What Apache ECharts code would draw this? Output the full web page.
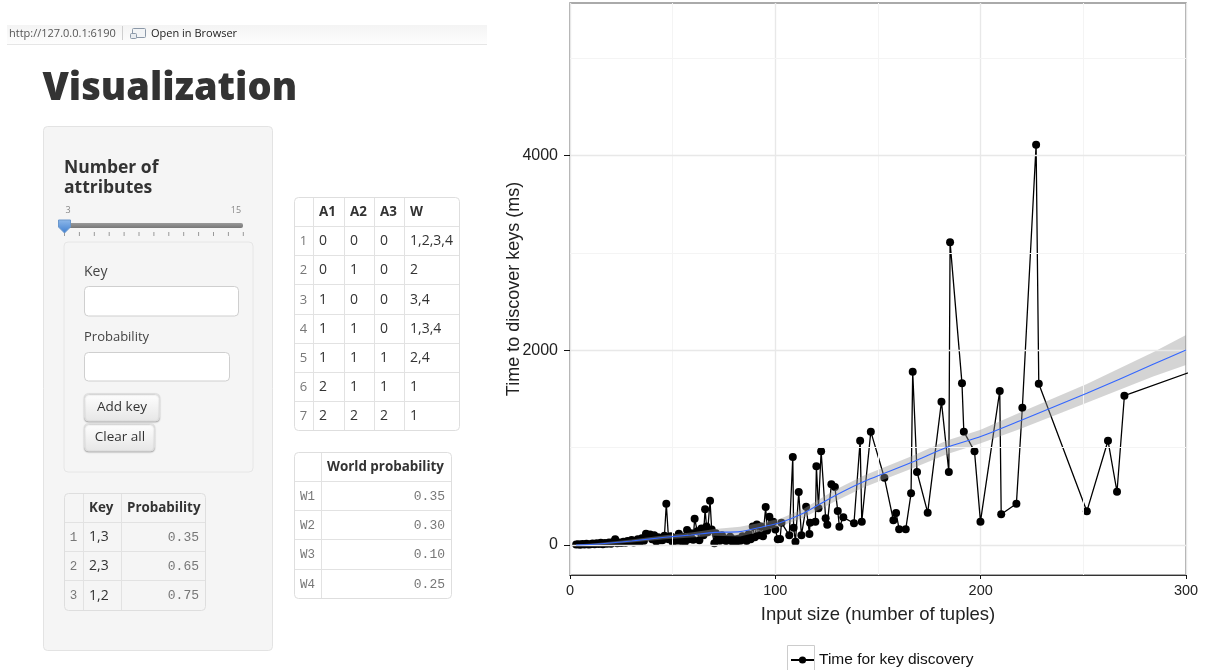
<!DOCTYPE html>
<html><head><meta charset="utf-8">
<script src="https://cdn.jsdelivr.net/npm/echarts@6/dist/echarts.min.js"></script>
<style>html,body{margin:0;padding:0;background:#fff}#c{width:1205px;height:670px}</style>
</head><body><div id="c"></div>
<script>
// ---- data ----
const seriesName = 'Time for key discovery';
const xAxisTitle = 'Input size (number of tuples)';
const yAxisTitle = 'Time to discover keys (ms)';
const sizes = [3,4,5,6,7,8,9,10,11,12,13,14,15,16,17,18,19,20,21,22,23,24,25,26,27,28,29,30,31,32,33,34,35,36,37,38,39,40,41,42,43,44,45,46,46.9,48,49,50,51,52,53,54,55,56,57,58,59,60,60.7,62,63,64,65,65.8,66.5,67,68.2,69,70.3,71,72,73,74,75,76,77,78,79,80,81,82,83,84,85,86,87,88,89,90,91,92,93,94,95.3,96,97.1,98,99,100,101.2,102.3,103,106.8,108.5,108.9,109.8,111.4,112.7,115,116.6,116.9,119.5,120,121,122.3,124.5,125.3,127.3,129,130.4,131.2,133.1,138.3,141.3,142.1,146.5,153.1,157.5,158.8,160.3,163.5,166.1,166.9,169,174.2,180.9,184.5,185.1,190.9,191.8,197,199.9,209.3,210,217.4,220.3,227,228.3,251.7,262,266.4,270,320];
const times = [5,8,3,10,4,12,6,9,15,7,18,10,22,8,20,14,25,12,30,58,18,26,20,34,22,40,30,52,25,38,60,30,70,45,115,90,108,60,100,35,80,50,48,95,424,60,90,30,75,45,115,40,85,30,155,60,120,55,270,140,50,170,100,367,190,130,455,160,17,120,60,45,100,70,40,55,85,35,60,30,65,45,90,70,40,110,60,190,80,210,100,190,90,390,150,291,210,240,160,58,62,229,99,904,178,34,544,99,394,113,229,240,808,377,962,274,209,623,596,349,188,284,223,1071,239,1164,691,254,329,161,161,531,1780,750,332,1472,750,3110,1660,1164,962,240,1582,315,424,1410,4110,1657,346,1071,547,1533,1911];
const smoothX = [3,13.6,30,46.3,59,70.6,82.8,94,102.3,113.6,129,142.9,167.2,183.5,199.7,219.2,251.7,284,300];
const smoothY = [0,10,41,79,103,130,137,188,229,325,506,650,855,1003,1112,1277,1558,1855,2003];
const bandHalf = [5,10,15,20,25,35,50,45,40,45,60,60,65,70,70,85,96,125,154];
const xTicks = [0,100,200,300];
const xMinorGrid = [50,150,250];
const yTicks = [0,2000,4000];
const yMinorGrid = [1000,3000,5000];

const pageTitle = 'Visualization';
const panelTitle = ['Number of','attributes'];
const sliderEnds = ['3','15'];
const sliderStops = [3,4,5,6,7,8,9,10,11,12,13,14,15];
const inputLabels = ['Key','Probability'];
const buttonLabels = ['Add key','Clear all'];
const keyHead = ['','Key','Probability'];
const keyRows = [['1','1,3','0.35'],['2','2,3','0.65'],['3','1,2','0.75']];
const attrHead = ['','A1','A2','A3','W'];
const attrRows = [['1','0','0','0','1,2,3,4'],['2','0','1','0','2'],['3','1','0','0','3,4'],['4','1','1','0','1,3,4'],['5','1','1','1','2,4'],['6','2','1','1','1'],['7','2','2','2','1']];
const worldHead = ['','World probability'];
const worldRows = [['W1','0.35'],['W2','0.30'],['W3','0.10'],['W4','0.25']];

// ---- page furniture ----
const UI = '"Open Sans", sans-serif';
const g = [];
const rect = (x,y,w,h,fill,stroke,r,z,shadow) => g.push({type:'rect',silent:true,z:z||1,shape:{x,y,width:w,height:h,r:r||0},
  style:{fill:fill||'none',stroke:stroke||'none',lineWidth:1,shadowBlur:shadow?1.5:0,shadowColor:'rgba(0,0,0,0.25)',shadowOffsetY:shadow?1:0}});
const line = (x1,y1,x2,y2,c,w,z) => g.push({type:'line',silent:true,z:z||2,shape:{x1,y1,x2,y2},style:{stroke:c,lineWidth:w||1}});
const text = (t,x,y,o) => g.push({type:'text',silent:true,z:5,x,y,style:Object.assign({text:t,fill:'#333',font:'14px '+UI,textAlign:'left',textVerticalAlign:'middle'},o||{})});
const vgrad = (a,b) => ({type:'linear',x:0,y:0,x2:0,y2:1,colorStops:[{offset:0,color:a},{offset:1,color:b}]});

// browser strip
rect(7,25,480,19,vgrad('#f4f4f4','#fdfdfd'));
line(7,44.5,487,44.5,'#e6e6e6');
text('http://127.0.0.1:6190',9,33.5,{font:'11px '+UI,fill:'#555'});
line(122.5,26,122.5,40,'#cfcfcf');
rect(132.5,28.5,13,9,'#f2f4f6','#8b98a8',1);
rect(130.5,33.5,6,5,'#e8ecf0','#8b98a8',1);
text('Open in Browser',151,33.5,{font:'11px '+UI,fill:'#222'});
text(pageTitle,42.5,89,{font:'800 38px '+UI,fill:'#333'});

// sidebar
rect(43.5,126.5,229,524,'#f5f5f5','#e3e3e3',4);
text(panelTitle[0],64,168,{font:'bold 17.5px '+UI});
text(panelTitle[1],64,188,{font:'bold 17.5px '+UI});
text(sliderEnds[0],68,210,{font:'9px '+UI,fill:'#888',textAlign:'center'});
text(sliderEnds[1],236,210,{font:'9px '+UI,fill:'#888',textAlign:'center'});
rect(64,223,179,5,vgrad('#9a9a9a','#777'),null,2,2);
sliderStops.forEach((s,i)=>line(64.5+i*14.9,232,64.5+i*14.9,236,'#999',1));
g.push({type:'polygon',silent:true,z:4,shape:{points:[[58.5,220],[70.5,220],[70.5,227],[64.5,233],[58.5,227]]},style:{fill:vgrad('#8fb9ea','#3f7fd0'),stroke:'#6a97cc',lineWidth:1}});
rect(64,242,189,230,'#f5f5f5','#e6e6e6',4);
text(inputLabels[0],84,272,{fill:'#444'});
rect(84.5,286.5,154,29.5,'#fff','#cfcfcf',4);
text(inputLabels[1],84,337,{fill:'#444',font:'13px '+UI});
rect(84.5,352.5,145,28.5,'#fff','#cfcfcf',4);
rect(84.5,393.5,75,27.5,vgrad('#ffffff','#e6e6e6'),'#dedede',4,3,true);
text(buttonLabels[0],122,407.5,{textAlign:'center',font:'13.5px '+UI});
rect(84.5,423.5,70,27.5,vgrad('#ffffff','#e6e6e6'),'#dedede',4,3,true);
text(buttonLabels[1],120,437.5,{textAlign:'center',font:'13.5px '+UI});

function table(head,rows,xs,ys,mono,bg){
  const W=xs[xs.length-1]-xs[0], H=ys[ys.length-1]-ys[0];
  rect(xs[0]+.5,ys[0]+.5,W,H,bg,'#dedede',4,3);
  xs.slice(1,-1).forEach(x=>line(x+.5,ys[0]+1,x+.5,ys[ys.length-1],'#e2e2e2',1,3));
  ys.slice(1,-1).forEach(y=>line(xs[0]+1,y+.5,xs[xs.length-1],y+.5,'#e2e2e2',1,3));
  head.forEach((h,i)=>{ if(h) text(h,xs[i]+6,(ys[0]+ys[1])/2+1,{font:'bold 13.4px '+UI,fill:'#333'}); });
  rows.forEach((r,ri)=>r.forEach((v,ci)=>{
    const cy=(ys[ri+1]+ys[ri+2])/2+1;
    if(ci===0) text(v,(xs[0]+xs[1])/2,cy,{textAlign:'center',font:mono?'12.5px "Liberation Mono"':'13px '+UI,fill:'#777'});
    else if(mono&&ci===r.length-1) text(v,xs[ci+1]-6,cy,{textAlign:'right',font:'13px "Liberation Mono"',fill:'#777'});
    else text(v,xs[ci]+6,cy,{fill:'#333'});
  }));
}
table(keyHead,keyRows,[64,83,121,205],[493,522,551,580,610],true,'#f5f5f5');
table(attrHead,attrRows,[294,313,344,374,404,459],[197,226,255,284,314,343,372,401,430],false,'#fff');
table(worldHead,worldRows,[294,321,451],[452,481,510,539,569,598],true,'#fff');

// legend key box
rect(787.5,645.5,27,30,'#fff','#cccccc',0,0);

const zip = (a,b) => a.map((v,i)=>[v,b[i]]);
const bandLow = smoothY.map((v,i)=>Math.max(0,v-bandHalf[i]));
const bandHigh = smoothY.map((v,i)=>v+bandHalf[i]);

const chart = echarts.init(document.getElementById('c'),null,{renderer:'canvas'});
chart.setOption({
  animation:false, backgroundColor:'#fff',
  textStyle:{fontFamily:'"Liberation Sans"'},
  graphic:g,
  legend:{data:[seriesName],left:790,top:652,padding:0,itemWidth:23,itemHeight:9,itemGap:4,selectedMode:false,
    textStyle:{fontSize:15.5,color:'#111',fontFamily:'"Liberation Sans"',padding:[0,0,0,0]}},
  grid:{left:570,top:3,width:616,height:572,show:true,borderColor:'#8f8f8f',borderWidth:1.5,backgroundColor:'transparent'},
  xAxis:{type:'value',min:0,max:300,interval:100,name:xAxisTitle,nameLocation:'middle',nameGap:30,
    nameTextStyle:{fontSize:18.5,color:'#222'},
    axisLine:{show:true,onZero:false,lineStyle:{color:'#333',width:1.2}},axisTick:{show:true,length:4,lineStyle:{color:'#111'}},
    axisLabel:{fontSize:14.5,color:'#222',margin:8,formatter:v=>String(v)},
    splitLine:{show:true,lineStyle:{color:'#e8e8e8',width:1.4}}},
  yAxis:{type:'value',min:-308,max:5566,name:yAxisTitle,nameLocation:'middle',nameGap:47,nameMoveOverlap:false,nameRotate:90,
    nameTextStyle:{fontSize:18,color:'#222'},
    axisLine:{show:false},
    axisTick:{show:true,length:6,lineStyle:{color:'#111'},customValues:yTicks},
    axisLabel:{fontSize:16,color:'#222',margin:12,customValues:yTicks,formatter:v=>String(v)},
    splitLine:{show:false}},
  series:[
    {type:'line',name:'grid',data:[],silent:true,symbol:'none',z:1,
      markLine:{silent:true,symbol:'none',label:{show:false},animation:false,
        data:[...xMinorGrid.map(v=>({xAxis:v,lineStyle:{color:'#f4f4f4',width:1,type:'solid'}})),
              ...yMinorGrid.map(v=>({yAxis:v,lineStyle:{color:'#f4f4f4',width:1,type:'solid'}})),
              ...yTicks.map(v=>({yAxis:v,lineStyle:{color:'#e8e8e8',width:1.4,type:'solid'}}))]}},
    {type:'line',name:seriesName,data:zip(sizes,times),clip:true,z:3,
      symbol:'circle',symbolSize:8,showAllSymbol:true,
      lineStyle:{color:'#000',width:1.3},itemStyle:{color:'#000'}},
    {type:'custom',name:'band',data:zip(smoothX,bandHigh),z:4,silent:true,clip:true,
      encode:{x:0,y:1},
      renderItem:(params,api)=>{
        if(params.dataIndex!==0) return null;
        const up=smoothX.map((x,i)=>api.coord([x,bandHigh[i]]));
        const lo=smoothX.map((x,i)=>api.coord([x,bandLow[i]])).reverse();
        return {type:'polygon',shape:{points:up.concat(lo)},style:{fill:'#999999',opacity:0.42},silent:true};
      }},
    {type:'line',name:'smooth',data:zip(smoothX,smoothY),symbol:'none',z:5,silent:true,smooth:0.2,lineStyle:{color:'#3366ff',width:1.1}}
  ]
});
</script></body></html>
